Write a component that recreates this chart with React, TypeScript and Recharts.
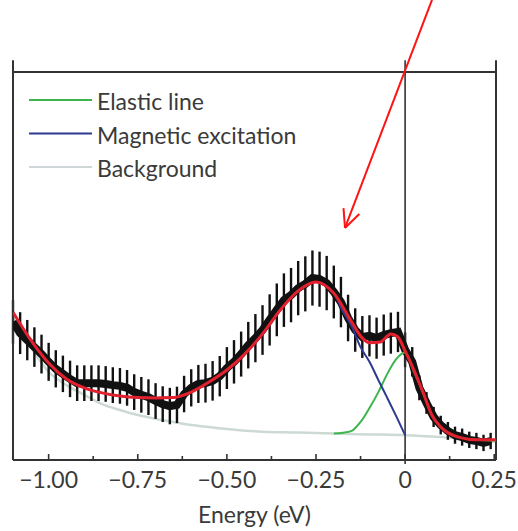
import {
  ComposedChart, Line, Scatter, ErrorBar, XAxis, YAxis, ReferenceLine, Legend,
} from "recharts";

// measured spectrum, energy step 0.02 eV
const dataEnergy = [
  -1.10, -1.08, -1.06, -1.04, -1.02, -1.00, -0.98, -0.96, -0.94, -0.92,
  -0.90, -0.88, -0.86, -0.84, -0.82, -0.80, -0.78, -0.76, -0.74, -0.72,
  -0.70, -0.68, -0.66, -0.64, -0.62, -0.60, -0.58, -0.56, -0.54, -0.52,
  -0.50, -0.48, -0.46, -0.44, -0.42, -0.40, -0.38, -0.36, -0.34, -0.32,
  -0.30, -0.28, -0.26, -0.24, -0.22, -0.20, -0.18, -0.16, -0.14, -0.12,
  -0.10, -0.08, -0.06, -0.04, -0.02, 0.00, 0.02, 0.04, 0.06, 0.08,
  0.10, 0.12, 0.14, 0.16, 0.18, 0.20, 0.22, 0.24,
];
const dataIntensity = [
  35.6, 32.7, 30.9, 29.1, 27.3, 25.3, 23.5, 22.2, 20.9, 19.8,
  19.8, 19.8, 19.8, 19.6, 19.3, 19.1, 18.6, 17.5, 16.8, 16.2,
  15.2, 14.4, 13.9, 14.2, 17.0, 18.6, 19.6, 19.8, 20.4, 21.6,
  23.7, 25.3, 27.3, 29.6, 31.4, 33.5, 36.1, 38.7, 41.2, 42.5,
  44.3, 45.4, 46.9, 46.6, 45.6, 43.3, 40.7, 36.6, 33.5, 31.7,
  32.0, 31.4, 32.2, 32.7, 33.0, 28.4, 25.3, 18.6, 14.7, 11.1,
  9.0, 7.5, 6.4, 5.9, 5.2, 4.9, 4.4, 4.9,
];
const dataError = [
  5.6, 5.4, 5.2, 5.1, 5.0, 4.9, 4.8, 4.7, 4.7, 4.6,
  4.6, 4.6, 4.6, 4.6, 4.6, 4.6, 4.6, 4.6, 4.6, 4.6,
  4.6, 4.6, 4.7, 4.7, 4.7, 4.8, 4.9, 5.0, 5.1, 5.2,
  5.4, 5.6, 5.8, 6.0, 6.2, 6.4, 6.6, 6.8, 6.9, 7.0,
  7.0, 7.1, 7.1, 7.1, 7.0, 6.8, 6.5, 6.0, 5.6, 5.4,
  5.3, 5.3, 5.3, 5.3, 5.2, 4.5, 3.8, 3.2, 2.8, 2.6,
  2.4, 2.3, 2.2, 2.2, 2.1, 2.1, 2.1, 2.1,
];

// total fit
const fitEnergy = [
  -1.10, -1.05, -1.00, -0.95, -0.90, -0.85, -0.80, -0.75, -0.70, -0.65,
  -0.60, -0.55, -0.50, -0.45, -0.40, -0.35, -0.30, -0.25, -0.20, -0.15,
  -0.12, -0.10, -0.07, -0.04, -0.02, 0.00, 0.02, 0.05, 0.075, 0.10,
  0.15, 0.20, 0.255,
];
const fitIntensity = [
  38.1, 30.9, 25.0, 20.9, 18.6, 17.3, 16.5, 16.1, 16.0, 16.1,
  17.5, 20.1, 23.2, 27.3, 32.5, 38.7, 43.6, 45.9, 43.0, 35.6,
  31.4, 30.2, 30.4, 32.5, 31.7, 28.1, 24.2, 17.5, 11.6, 8.5,
  5.9, 5.2, 5.2,
];

// background
const bgEnergy = [
  -1.10, -1.05, -1.00, -0.95, -0.90, -0.85, -0.80, -0.75, -0.70, -0.65,
  -0.60, -0.55, -0.50, -0.40, -0.30, -0.20, -0.10, 0.00, 0.10, 0.20, 0.255,
];
const bgIntensity = [
  36.6, 29.1, 22.7, 19.3, 16.8, 14.4, 12.9, 11.6, 10.6, 9.8,
  9.0, 8.5, 8.0, 7.3, 7.1, 6.8, 6.6, 6.4, 5.9, 5.2, 4.6,
];

// elastic line (sits on the background)
const elasticEnergy = [
  -0.20, -0.175, -0.15, -0.125, -0.10,
  -0.075, -0.05, -0.025, 0.00, 0.025, 0.05, 0.075, 0.10, 0.125, 0.15, 0.20, 0.255,
];
const elasticIntensity = [
  6.8, 7.0, 7.5, 9.8, 13.4,
  17.5, 22.2, 26.0, 27.8, 22.7, 17.5, 11.6, 8.5, 6.7, 5.9, 5.2, 5.0,
];

// magnetic excitation (+ background)
const magEnergy = [
  -1.10, -1.05, -1.00, -0.95, -0.90, -0.85, -0.80, -0.75, -0.70, -0.65,
  -0.60, -0.55, -0.50, -0.45, -0.40, -0.35, -0.30, -0.25, -0.20, -0.175,
  -0.15, -0.125, -0.10, -0.075, -0.05, -0.025, 0.00,
];
const magIntensity = [
  38.1, 30.9, 25.0, 20.9, 18.6, 17.3, 16.5, 16.1, 16.0, 16.1,
  17.5, 20.1, 23.2, 27.3, 32.5, 38.7, 43.6, 45.9, 43.0, 38.4,
  34.5, 29.1, 25.3, 20.6, 16.0, 11.3, 6.4,
];

const majorTicks = [-1, -0.75, -0.5, -0.25, 0, 0.25];
const minorTicks = [-0.875, -0.625, -0.375, -0.125, 0.125];
const tickLabels = ["−1.00", "−0.75", "−0.50", "−0.25", "0", "0.25"];

const legendItems = [
  { label: "Elastic line", color: "#3cb54d" },
  { label: "Magnetic excitation", color: "#2b3990" },
  { label: "Background", color: "#cfd6d8" },
];

const X_DOMAIN: [number, number] = [-1.1, 0.255];
const TOP = 103; // axis lines run a bit past the frame

const zip = (xs: number[], ys: number[]) => xs.map((e, i) => ({ e, v: ys[i] }));

const points = dataEnergy.map((e, i) => ({ e, v: dataIntensity[i], err: dataError[i] }));
const fit = zip(fitEnergy, fitIntensity);
const background = zip(bgEnergy, bgIntensity);
const elastic = zip(elasticEnergy, elasticIntensity);
const magnetic = zip(magEnergy, magIntensity);

const FONT = "Lato, 'Open Sans', sans-serif";
const TEXT = "#3a3a3a";

function EnergyTick(props: any) {
  const { x, y, payload } = props;
  const i = majorTicks.indexOf(payload.value);
  return (
    <g>
      <line x1={x} x2={x} y1={y} y2={y - (i >= 0 ? 6 : 4)} stroke="#333" strokeWidth={1.6} />
      {i >= 0 && (
        <text x={x} y={y + 28} textAnchor="middle" fontSize={23} fontFamily={FONT} fill={TEXT}>
          {tickLabels[i]}
        </text>
      )}
    </g>
  );
}

function LegendBox() {
  return (
    <svg width={320} height={100} style={{ display: "block" }}>
      {legendItems.map((item, i) => (
        <g key={item.label} transform={`translate(0, ${i * 33.5})`}>
          <line x1={0} x2={63} y1={14} y2={14} stroke={item.color} strokeWidth={2.2} />
          <text x={68} y={24} fontSize={23} fontFamily={FONT} fill={TEXT}>{item.label}</text>
        </g>
      ))}
    </svg>
  );
}

const NoMarker = () => <g />;

export default function App() {
  return (
    <div style={{ position: "absolute", left: 0, top: 0, background: "#fff" }}>
      <ComposedChart width={518} height={531} margin={{ top: 72, right: 22, bottom: 0, left: 13 }}>
        <XAxis
          dataKey="e"
          type="number"
          domain={X_DOMAIN}
          allowDataOverflow
          ticks={[...majorTicks, ...minorTicks].sort((a, b) => a - b)}
          interval={0}
          height={71}
          tickSize={0}
          tickMargin={0}
          tickLine={false}
          tick={<EnergyTick />}
          axisLine={{ stroke: "#333", strokeWidth: 2 }}
          label={{ value: "Energy (eV)", position: "insideBottom", offset: 8, fontSize: 23, fontFamily: FONT, fill: TEXT }}
        />
        <YAxis dataKey="v" type="number" domain={[0, 100]} allowDataOverflow hide width={0} />

        <ReferenceLine y={100} stroke="#333" strokeWidth={2} />
        <ReferenceLine segment={[{ x: X_DOMAIN[0], y: 0 }, { x: X_DOMAIN[0], y: TOP }]} ifOverflow="visible" stroke="#333" strokeWidth={2} />
        <ReferenceLine segment={[{ x: X_DOMAIN[1], y: 0 }, { x: X_DOMAIN[1], y: TOP }]} ifOverflow="visible" stroke="#333" strokeWidth={2} />
        <ReferenceLine segment={[{ x: 0, y: -1 }, { x: 0, y: TOP }]} ifOverflow="visible" stroke="#333" strokeWidth={1.6} />

        <Scatter data={points} shape={<NoMarker />} isAnimationActive={false} zIndex={300}>
          <ErrorBar dataKey="err" direction="y" width={0} stroke="#111" strokeWidth={2.4} zIndex={300} />
        </Scatter>
        <Line data={background} dataKey="v" type="monotone" stroke="#cddad3" strokeWidth={2.5} dot={false} isAnimationActive={false} zIndex={250} />
        <Line data={points} dataKey="v" type="linear" stroke="#111" strokeWidth={8} dot={false} isAnimationActive={false} zIndex={400} />
        <Line data={elastic} dataKey="v" type="monotone" stroke="#3cb54d" strokeWidth={2} dot={false} isAnimationActive={false} zIndex={500} />
        <Line data={magnetic} dataKey="v" type="monotone" stroke="#2b3990" strokeWidth={2} dot={false} isAnimationActive={false} zIndex={510} />
        <Line data={fit} dataKey="v" type="monotone" stroke="#e3202e" strokeWidth={3} dot={false} isAnimationActive={false} zIndex={520} />

        {/* annotation arrow */}
        <ReferenceLine segment={[{ x: 0.0755, y: 118.6 }, { x: -0.1686, y: 59.8 }]} ifOverflow="visible" stroke="#ff1414" strokeWidth={2} />
        <ReferenceLine segment={[{ x: -0.1686, y: 59.8 }, { x: -0.1285, y: 63.4 }]} ifOverflow="visible" stroke="#ff1414" strokeWidth={2} />
        <ReferenceLine segment={[{ x: -0.1686, y: 59.8 }, { x: -0.1728, y: 64.9 }]} ifOverflow="visible" stroke="#ff1414" strokeWidth={2} />

        <Legend
          layout="horizontal"
          verticalAlign="middle"
          align="center"
          wrapperStyle={{ left: 29, top: 86, width: 320, height: 100 }}
          content={<LegendBox />}
        />
      </ComposedChart>
    </div>
  );
}
